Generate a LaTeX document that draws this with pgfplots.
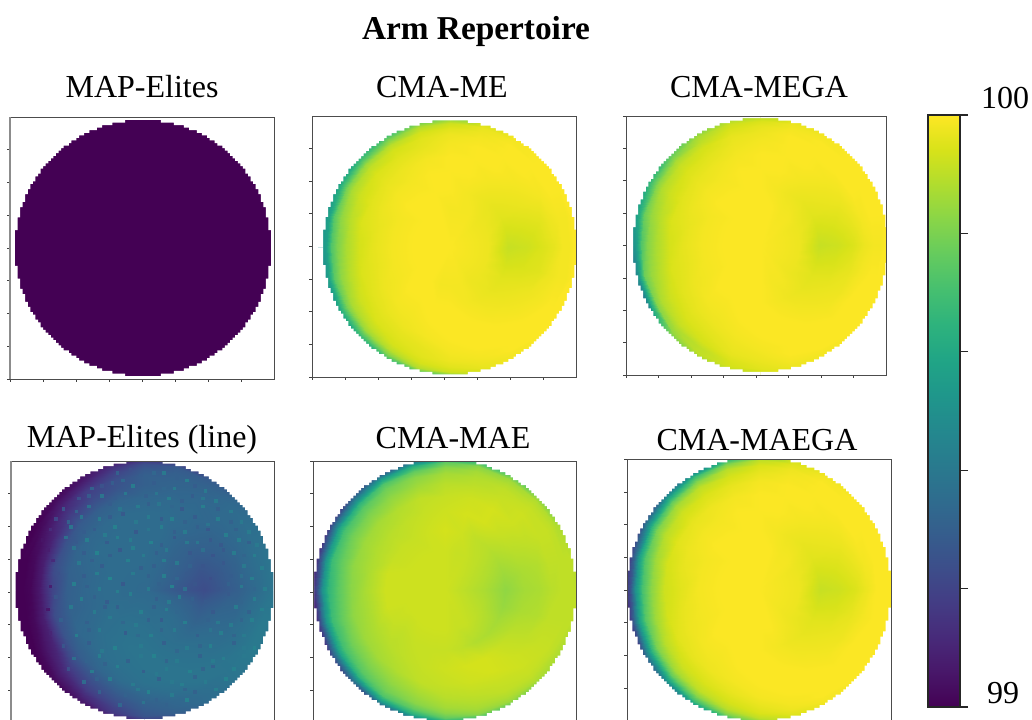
\documentclass[border=0pt]{standalone}
\usepackage{fontspec}
\setmainfont{Liberation Serif}
\usepackage{pgfplots}
\usepackage{pgfplotstable}
\pgfplotsset{compat=1.18}

% polar grid: x y, then meta (0-100 = 99..100) for CMA-ME, CMA-MEGA, line, CMA-MAE, CMA-MAEGA
\pgfplotstableread{
x y b c d e f
104 0 99 99 38 90 99
100 27 99 99 38 88 99
90 52 99 99 36 85 99
74 74 99 99 32 75 98
52 90 98 98 25 68 96
27 100 92 95 15 60 92
0 104 75 85 8 45 75
-27 100 72 85 3 25 55
-52 90 62 78 2 12 30
-74 74 55 68 0 8 18
-90 52 50 58 0 5 10
-100 27 48 50 0 3 8
-104 0 48 42 0 2 5
-100 -27 48 38 0 3 8
-90 -52 50 30 0 5 10
-74 -74 52 72 0 8 20
-52 -90 58 82 2 12 35
-27 -100 65 88 6 25 55
0 -104 60 88 10 45 75
27 -100 90 95 20 60 90
52 -90 98 98 30 68 96
74 -74 99 99 34 75 98
90 -52 99 99 38 85 99
100 -27 99 99 38 88 99
104 0 99 99 38 90 99
98 0 99 99 38 90 99
95 25 99 99 38 90 99
85 49 99 99 36 88 99
69 69 99 99 33 88 99
49 85 98 98 29 85 98
25 95 96 97 28 82 95
0 98 92 94 24 75 90
-25 95 88 92 14 62 80
-49 85 80 87 6 55 68
-69 69 72 80 3 45 58
-85 49 66 72 0 36 45
-95 25 58 62 0 28 32
-98 0 56 55 0 25 25
-95 -25 58 55 0 28 32
-85 -49 66 62 0 36 45
-69 -69 72 84 3 45 58
-49 -85 80 90 7 55 68
-25 -95 88 93 16 62 80
0 -98 92 95 26 75 90
25 -95 96 97 30 82 95
49 -85 98 98 35 85 98
69 -69 99 99 38 88 99
85 -49 99 99 40 88 99
95 -25 99 99 40 90 99
98 0 99 99 38 90 99
94 0 98 98 37 90 99
91 24 98 99 37 90 99
81 47 99 99 36 90 99
66 66 99 99 34 90 99
47 81 99 99 31 88 99
24 91 97 98 30 86 97
0 94 95 96 28 82 94
-24 91 93 94 20 75 89
-47 81 89 90 12 72 82
-66 66 85 87 7 65 76
-81 47 80 82 2 58 66
-91 24 74 77 0 52 56
-94 0 72 72 0 50 50
-91 -24 74 77 0 52 56
-81 -47 80 82 2 58 66
-66 -66 85 87 7 65 76
-47 -81 89 90 12 72 82
-24 -91 93 94 20 75 89
0 -94 95 96 28 82 94
24 -91 97 98 32 86 97
47 -81 99 99 35 88 99
66 -66 99 99 38 90 99
81 -47 99 99 40 90 99
91 -24 98 99 40 90 99
94 0 98 98 37 90 99
89 0 98 98 35 90 99
86 23 98 99 36 90 99
77 45 99 99 35 91 99
63 63 99 99 34 91 99
45 77 99 99 32 90 99
23 86 98 99 31 88 98
0 89 97 97 30 86 96
-23 86 95 96 24 82 93
-45 77 93 93 18 78 90
-63 63 90 91 11 74 86
-77 45 87 88 5 70 80
-86 23 83 84 2 68 73
-89 0 80 81 1 65 70
-86 -23 83 84 2 68 73
-77 -45 87 88 5 70 80
-63 -63 90 91 11 74 86
-45 -77 93 93 18 78 90
-23 -86 95 96 24 82 93
0 -89 97 97 30 86 96
23 -86 98 99 33 88 98
45 -77 99 99 36 90 99
63 -63 99 99 38 91 99
77 -45 99 99 39 91 99
86 -23 98 99 38 90 99
89 0 98 98 35 90 99
82 0 96 97 33 89 97
79 21 97 98 34 90 98
71 41 98 99 34 91 99
58 58 99 99 34 92 99
41 71 99 99 33 91 99
21 79 99 99 32 90 99
0 82 98 98 30 89 98
-21 79 96 97 26 86 96
-41 71 95 95 22 83 94
-58 58 94 94 18 80 92
-71 41 92 92 10 78 89
-79 21 89 89 8 76 85
-82 0 87 87 6 74 82
-79 -21 89 89 8 76 85
-71 -41 92 92 10 78 89
-58 -58 94 94 19 80 92
-41 -71 95 95 24 83 94
-21 -79 96 97 29 86 96
0 -82 98 98 33 89 98
21 -79 99 99 36 90 99
41 -71 99 99 38 91 99
58 -58 99 99 38 92 99
71 -41 98 99 37 91 99
79 -21 97 98 36 90 98
82 0 96 97 33 89 97
72 0 94 94 30 87 94
70 19 95 96 31 88 96
62 36 97 97 32 90 97
51 51 98 98 33 92 98
36 62 99 99 34 93 99
19 70 99 99 34 92 99
0 72 99 99 33 91 99
-19 70 98 98 32 90 98
-36 62 97 97 30 88 97
-51 51 96 96 28 86 96
-62 36 95 95 25 85 95
-70 19 94 94 23 83 93
-72 0 93 93 20 82 92
-70 -19 94 94 23 83 93
-62 -36 95 95 26 85 95
-51 -51 96 96 29 86 96
-36 -62 97 97 32 88 97
-19 -70 98 98 35 90 98
0 -72 99 99 37 91 99
19 -70 99 99 38 92 99
36 -62 99 99 38 93 99
51 -51 98 98 37 92 98
62 -36 97 97 35 90 97
70 -19 95 96 33 88 96
72 0 94 94 30 87 94
60 0 92 92 27 86 92
58 16 94 94 28 87 94
52 30 96 96 30 89 96
42 42 97 97 32 91 97
30 52 98 98 34 93 98
16 58 99 99 35 93 99
0 60 99 99 35 92 99
-16 58 99 99 35 91 99
-30 52 98 98 34 90 98
-42 42 98 98 33 89 98
-52 30 97 97 32 88 97
-58 16 96 96 31 87 96
-60 0 96 96 30 87 95
-58 -16 96 96 31 87 96
-52 -30 97 97 33 88 97
-42 -42 98 98 34 89 98
-30 -52 98 98 36 90 98
-16 -58 99 99 37 91 99
0 -60 99 99 38 92 99
16 -58 99 99 38 93 99
30 -52 98 98 37 93 98
42 -42 97 97 36 91 97
52 -30 96 96 34 89 96
58 -16 94 94 32 87 94
60 0 92 92 27 86 92
46 0 91 91 23 83 91
44 12 93 93 25 85 93
40 23 95 95 28 87 95
33 33 96 96 31 89 96
23 40 97 97 33 90 97
12 44 98 98 35 92 98
0 46 99 99 35 93 99
-12 44 99 99 35 92 99
-23 40 99 99 35 91 99
-33 33 99 99 35 91 99
-40 23 98 98 34 91 98
-44 12 98 98 33 92 98
-46 0 98 98 33 92 98
-44 -12 98 98 33 92 98
-40 -23 98 98 34 91 98
-33 -33 99 99 36 90 99
-23 -40 99 99 37 91 99
-12 -44 99 99 38 91 99
0 -46 99 99 38 91 99
12 -44 98 98 37 90 98
23 -40 97 97 36 88 97
33 -33 96 96 34 87 96
40 -23 95 95 31 86 95
44 -12 93 93 28 84 93
46 0 91 91 23 83 91
30 0 97 97 26 87 97
29 8 97 97 28 88 97
26 15 97 97 30 89 97
21 21 97 98 31 90 98
15 26 98 98 33 91 98
8 29 98 99 34 91 99
0 30 98 99 35 92 99
-8 29 99 99 35 92 99
-15 26 99 99 35 92 99
-21 21 99 99 35 92 99
-26 15 99 99 35 92 99
-29 8 99 99 35 92 99
-30 0 99 99 35 92 99
-29 -8 99 99 35 92 99
-26 -15 99 99 36 92 99
-21 -21 99 99 36 92 99
-15 -26 99 99 37 92 99
-8 -29 98 99 37 92 99
0 -30 98 99 37 92 99
8 -29 98 98 36 91 99
15 -26 97 98 36 91 98
21 -21 97 97 35 90 97
26 -15 97 97 33 89 97
29 -8 97 97 31 88 97
30 0 97 97 26 87 97
0 0 99 99 34 92 99
0 0 99 99 34 92 99
0 0 99 99 34 92 99
0 0 99 99 34 92 99
0 0 99 99 34 92 99
0 0 99 99 34 92 99
0 0 99 99 34 92 99
0 0 99 99 34 92 99
0 0 99 99 34 92 99
0 0 99 99 34 92 99
0 0 99 99 34 92 99
0 0 99 99 34 92 99
0 0 99 99 34 92 99
0 0 99 99 34 92 99
0 0 99 99 34 92 99
0 0 99 99 34 92 99
0 0 99 99 34 92 99
0 0 99 99 34 92 99
0 0 99 99 34 92 99
0 0 99 99 34 92 99
0 0 99 99 34 92 99
0 0 99 99 34 92 99
0 0 99 99 34 92 99
0 0 99 99 34 92 99
0 0 99 99 34 92 99
}\grid

% one quarter of the white around the disc, stepped like the archive cells
\pgfplotstableread{
x y
0 150
150 150
150 0
100 0
100 14
98 14
98 24
96 24
96 32
94 32
94 36
92 36
92 42
90 42
90 46
88 46
88 50
86 50
86 52
84 52
84 56
82 56
82 58
80 58
80 62
78 62
78 64
76 64
76 66
74 66
74 68
72 68
72 70
70 70
70 72
68 72
68 74
66 74
66 76
64 76
64 78
62 78
62 80
58 80
58 82
56 82
56 84
52 84
52 86
50 86
50 88
46 88
46 90
42 90
42 92
36 92
36 94
32 94
32 96
24 96
24 98
14 98
14 100
0 100
}\quarter

% brighter and darker cells of the noisy panel
\pgfplotstableread{
x y v
-21 91 30
-11 93 24
-3 89 29
7 91 33
15 91 40
25 87 30
33 85 42
-41 79 30
-33 81 25
-25 83 29
-17 85 33
-9 81 41
7 83 29
15 79 33
23 79 41
39 81 29
47 77 40
-51 71 24
-43 73 28
-33 73 38
-23 71 29
-15 75 40
1 73 30
9 75 39
19 71 42
29 69 30
37 73 29
45 71 39
55 69 41
-63 63 25
-53 61 31
-43 65 37
-27 67 29
-19 63 39
-5 65 41
3 67 30
11 67 39
21 65 33
29 63 28
45 65 42
57 63 30
67 61 41
-69 55 20
-59 53 30
-49 57 38
-35 55 41
-27 57 29
-17 59 28
-7 53 40
3 57 41
13 55 29
21 55 43
31 53 31
39 57 29
49 51 38
57 55 42
67 53 31
75 53 40
-73 47 12
-57 49 38
-47 45 29
-39 47 29
-31 43 41
-23 49 43
-7 45 28
3 47 39
13 49 42
23 45 30
31 45 41
41 49 30
49 47 27
63 43 42
71 47 31
81 45 41
-79 39 5
-61 41 36
-53 37 28
-45 39 42
-29 37 29
-21 41 42
-11 39 41
5 37 44
13 35 30
23 41 28
33 37 40
41 37 39
51 39 28
59 35 28
73 39 42
81 37 30
87 35 40
-75 31 8
-55 33 38
-47 29 29
-37 29 44
-27 27 30
-19 31 28
-9 33 42
-1 27 41
9 29 30
17 31 40
35 29 27
45 31 36
53 27 26
61 31 28
69 29 41
77 27 32
85 27 42
-71 23 12
-51 21 40
-41 23 30
-33 19 29
-13 23 43
-3 17 30
7 19 30
15 23 42
25 21 40
35 19 31
45 19 26
61 21 27
69 19 31
77 19 40
91 17 42
-67 13 24
-57 11 31
-47 11 29
-37 13 42
-27 9 45
-9 13 41
3 11 31
15 11 42
25 9 33
33 13 28
51 9 24
59 13 28
67 11 29
75 11 36
83 9 42
-73 3 8
-55 5 42
-45 3 30
-35 1 41
-17 5 28
3 1 41
11 5 31
21 3 43
31 1 36
39 5 26
57 1 26
65 5 31
75 3 40
85 1 33
93 1 42
-69 -5 26
-49 -7 42
-39 -5 31
-29 -9 29
-21 -1 42
-11 -3 42
9 -7 30
19 -9 41
27 -5 41
37 -7 30
47 -9 28
65 -3 28
75 -9 32
85 -7 42
-75 -15 6
-57 -13 40
-39 -17 41
-31 -13 30
-21 -13 30
-3 -17 43
7 -13 31
17 -15 42
25 -17 33
35 -13 31
53 -17 28
61 -11 31
71 -13 41
81 -17 31
91 -15 43
-65 -23 30
-45 -25 30
-27 -21 41
-17 -25 33
-7 -27 41
3 -23 31
13 -23 29
31 -25 42
49 -23 31
57 -25 40
67 -27 41
75 -23 32
83 -23 43
-73 -33 10
-53 -35 42
-43 -31 31
-35 -31 41
-15 -33 29
-5 -35 34
5 -35 43
13 -31 32
23 -31 41
41 -35 30
51 -31 38
59 -33 42
69 -35 32
77 -35 41
-63 -43 26
-43 -41 29
-33 -47 40
-23 -45 44
-3 -43 41
15 -41 30
25 -47 33
33 -45 41
43 -43 32
51 -43 43
69 -41 31
77 -45 40
85 -45 44
-55 -53 36
-45 -55 31
-35 -51 42
-13 -55 31
-3 -51 40
7 -51 44
17 -55 32
25 -55 41
43 -51 31
53 -55 41
61 -53 42
77 -51 40
-59 -61 24
-41 -63 41
-31 -57 31
-21 -59 43
-1 -63 30
9 -65 40
17 -61 41
35 -63 44
45 -61 32
53 -59 31
69 -61 43
-47 -71 34
-37 -69 30
-27 -69 42
-9 -73 41
11 -69 30
21 -71 40
29 -73 42
39 -67 32
47 -71 41
63 -69 44
-35 -79 30
-15 -81 31
-5 -77 40
3 -79 44
21 -81 41
31 -77 32
39 -79 31
55 -77 42
-19 -89 33
-1 -87 38
9 -85 31
17 -89 31
33 -85 43
}\speck

\newcommand{\mask}{%
  \addplot[fill=white,draw=none] table[x=x,y=y] {\quarter};
  \addplot[fill=white,draw=none] table[x expr=-\thisrow{x},y=y] {\quarter};
  \addplot[fill=white,draw=none] table[x=x,y expr=-\thisrow{y}] {\quarter};
  \addplot[fill=white,draw=none] table[x expr=-\thisrow{x},y expr=-\thisrow{y}] {\quarter};
}
\newcommand{\heat}[1]{%
  \addplot[surf,shader=interp,mesh/cols=25,point meta=explicit] table[x=x,y=y,meta=#1] {\grid};
}

\pgfplotsset{
  panel/.style={
    scale only axis,anchor=south west,axis on top,
    colormap/viridis,point meta min=0,point meta max=99.4,
    tick pos=left,tick align=outside,major tick length=2.2pt,
    xticklabels={},yticklabels={},
    axis line style={draw=black!70,line width=0.6pt},
    tick style={draw=black!75,line width=0.5pt},
  },
  greyleft/.style={
    after end axis/.code={
      \draw[black!45,line width=1pt] (rel axis cs:0,0) -- (rel axis cs:0,1);
    },
  },
}
\definecolor{vlow}{RGB}{68,1,84}

\begin{document}
\begin{tikzpicture}
\clip (0,0) rectangle (774pt,-539.25pt);

\begin{axis}[panel,greyleft,at={(7.5pt,-284.25pt)},width=198pt,height=196.5pt,
  xmin=-103.9,xmax=102.3,ymin=-102.3,ymax=102.3,
  xtick={-103.9,-78.1,...,103},ytick={-102.3,-76.7,...,103}]
  \addplot[fill=vlow,draw=none] coordinates {(-110,-110) (110,-110) (110,110) (-110,110)};
  \mask
\end{axis}

\begin{axis}[panel,at={(234pt,-282.75pt)},width=198pt,height=195.75pt,
  xmin=-108.7,xmax=99.2,ymin=-102,ymax=103.5,
  xtick={-108.7,-82.7,...,100},ytick={-102,-76.3,...,104}]
  \heat{b}
  \mask
\end{axis}

\begin{axis}[panel,at={(469.5pt,-281.25pt)},width=195pt,height=194.25pt,
  xmin=-105.5,xmax=98.4,ymin=-102.4,ymax=101.6,
  xtick={-105.5,-80,...,99},ytick={-102.4,-76.9,...,102}]
  \heat{c}
  \mask
\end{axis}

\begin{axis}[panel,greyleft,at={(8.25pt,-542.25pt)},width=197.25pt,height=196.5pt,
  xmin=-103.5,xmax=100.4,ymin=-103.1,ymax=100,
  xtick={-103.5,-78,...,101},ytick={-103.1,-77.7,...,101}]
  \heat{d}
  \addplot[scatter,only marks,mark=square*,mark size=1pt,point meta=explicit,
    scatter/use mapped color={draw=mapped color,fill=mapped color}]
    table[x=x,y=y,meta=v] {\speck};
  \mask
\end{axis}

\begin{axis}[panel,at={(234.75pt,-542.25pt)},width=197.25pt,height=196.5pt,
  xmin=-100.8,xmax=100,ymin=-101.5,ymax=98.5,
  xtick={-100.8,-75.7,...,101},ytick={-101.5,-76.5,...,99}]
  \heat{e}
  \mask
\end{axis}

\begin{axis}[panel,at={(470.25pt,-540.75pt)},width=198pt,height=196.5pt,
  xmin=-100,xmax=100,ymin=-100,ymax=98.5,
  xtick={-100,-75,...,101},ytick={-100,-75.2,...,99}]
  \heat{f}
  \mask
\end{axis}

% colour bar
\begin{axis}[scale only axis,anchor=south west,axis on top,at={(696pt,-530.25pt)},width=24pt,height=444pt,
  colormap/viridis,point meta min=0,point meta max=100,
  xmin=0,xmax=1,ymin=0,ymax=100,
  xtick=\empty,ytick={0,20,...,100},yticklabels={},ytick pos=right,tick align=outside,
  major tick length=6pt,axis line style={draw=black!85,line width=0.9pt},tick style={draw=black!85,line width=0.8pt}]
  \addplot[surf,shader=interp,mesh/cols=2,point meta=explicit] table[meta=m] {
    x y m
    0 0 0
    1 0 0
    0 100 100
    1 100 100
  };
\end{axis}

\begin{scope}[x=0.75pt,y=-0.75pt,every node/.style={inner sep=0pt,font=\fontsize{24}{28}\selectfont}]
  \node[font=\fontsize{25}{28}\selectfont\bfseries] at (476,31) {Arm Repertoire};
  \node at (142,87) {MAP-Elites};
  \node at (442,87) {CMA-ME};
  \node at (759,87) {CMA-MEGA};
  \node at (142,440) {MAP-Elites (line)};
  \node at (453,438) {CMA-MAE};
  \node at (757,440) {CMA-MAEGA};
  \node at (1005,98) {100};
  \node at (1003,693) {99};
\end{scope}
\end{tikzpicture}
\end{document}
